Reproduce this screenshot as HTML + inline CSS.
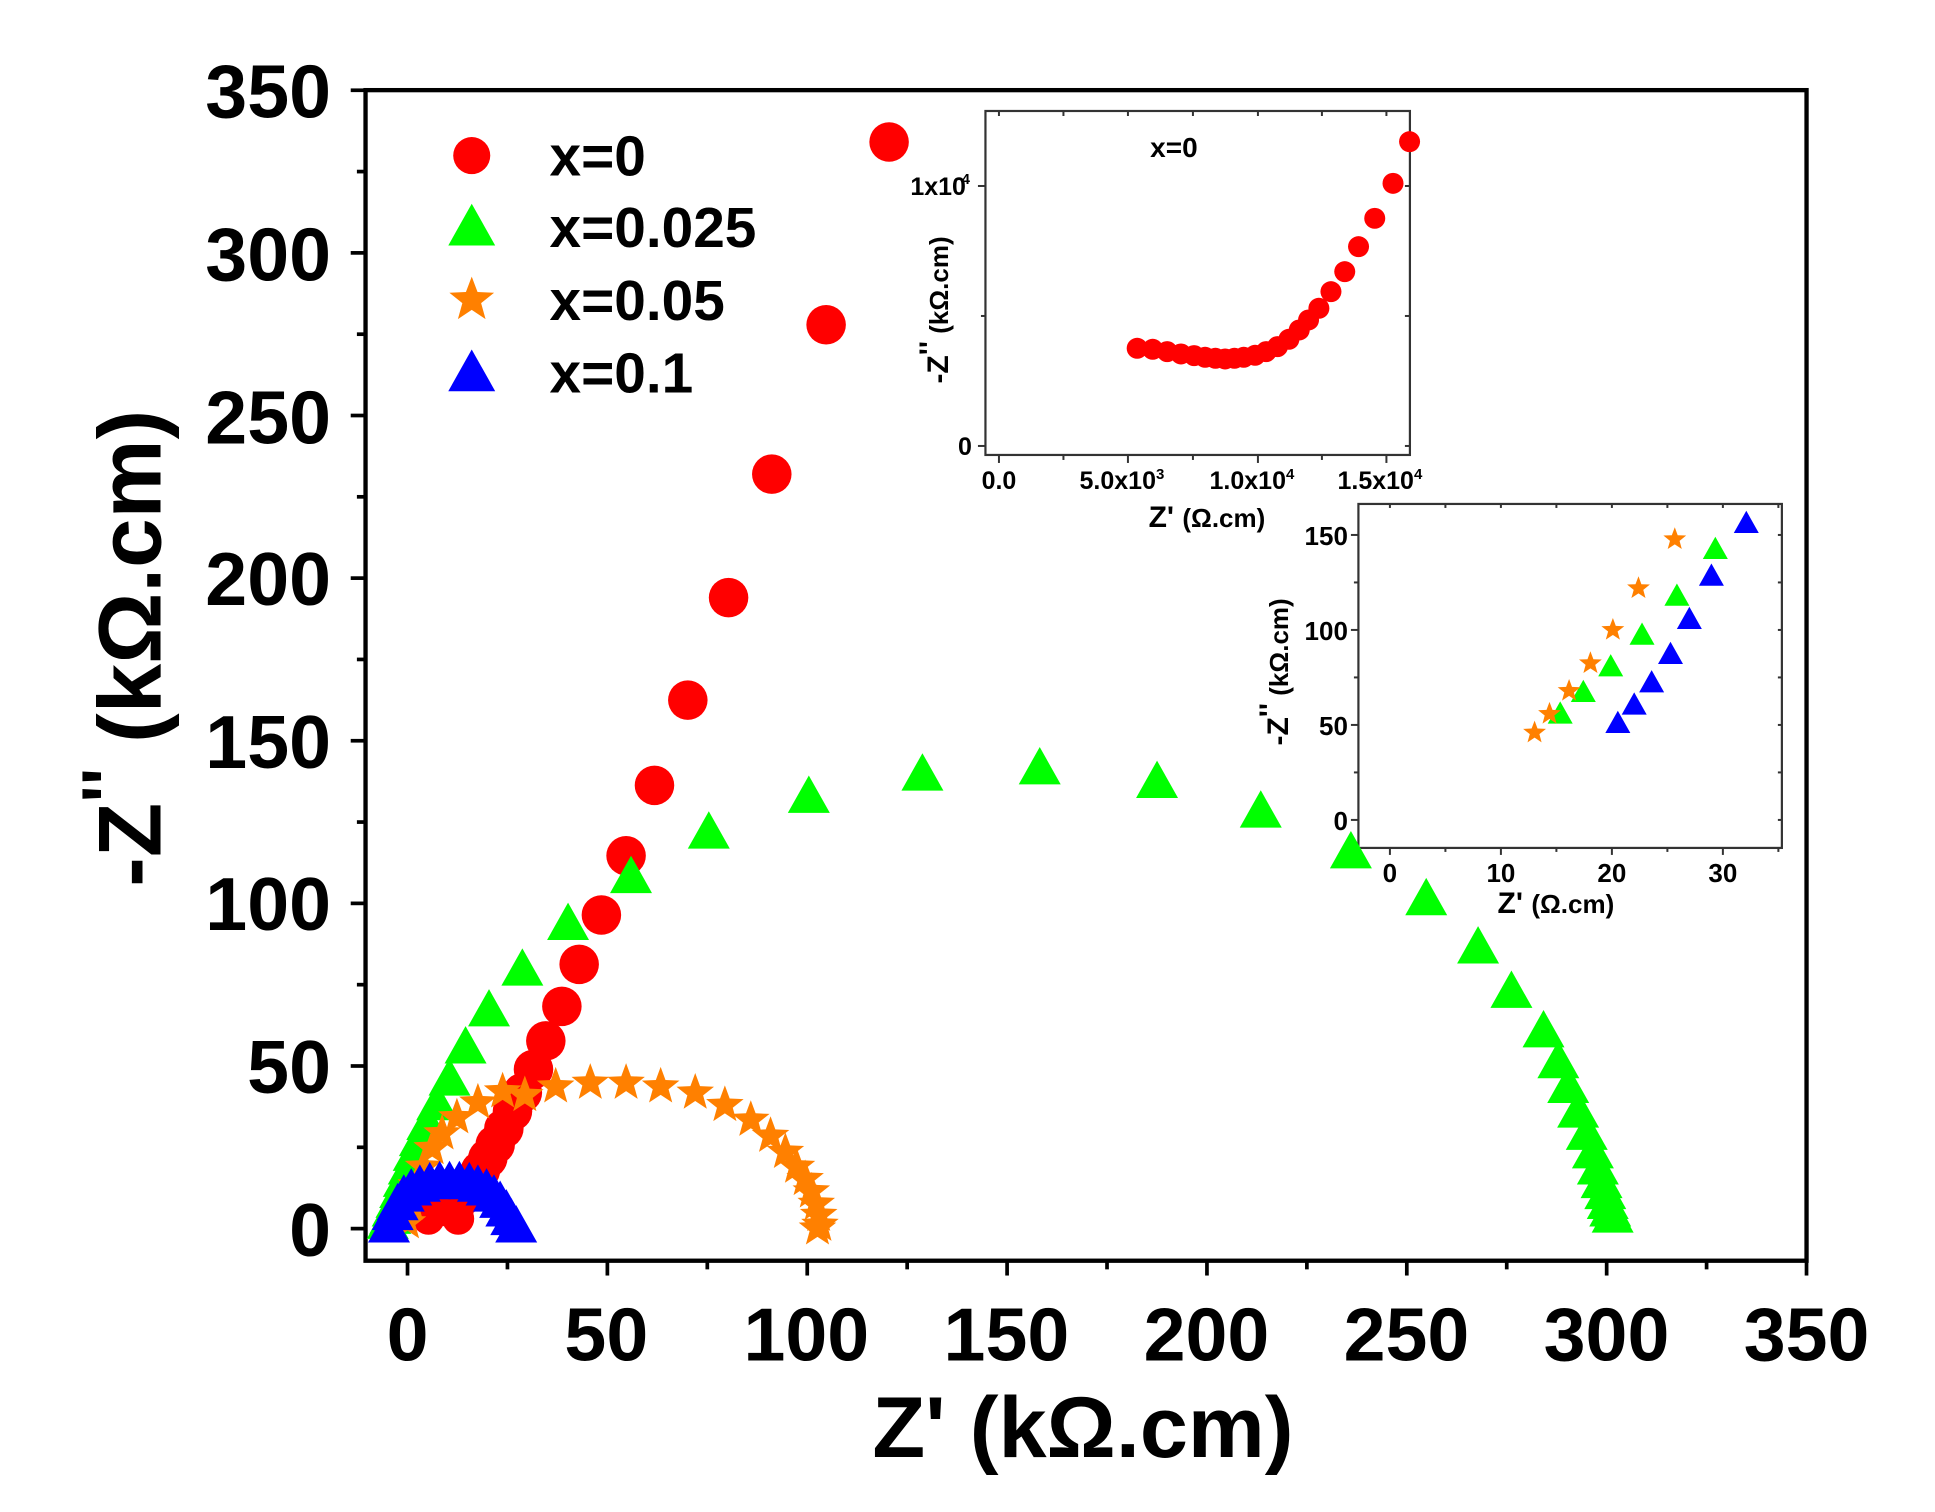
<!DOCTYPE html>
<html><head><meta charset="utf-8">
<style>
html,body{margin:0;padding:0;background:#fff;}
svg{display:block;}
text{font-family:"Liberation Sans",Arial,sans-serif;font-weight:bold;fill:#000;}
</style></head>
<body>
<svg id="s" width="1935" height="1512" viewBox="0 0 1567 1224.5" xmlns="http://www.w3.org/2000/svg">
<rect x="0" y="0" width="1567" height="1224.5" fill="#fff"/>
<g id="axes" stroke="#000" stroke-width="3.5" fill="none">
<rect x="296" y="73" width="1167" height="948"/>
</g>
<g id="ticks" stroke="#000" stroke-width="3" fill="none"></g>
<g font-size="61" text-anchor="end">
<text x="268" y="1017">0</text>
<text x="268" y="885">50</text>
<text x="268" y="753">100</text>
<text x="268" y="622">150</text>
<text x="268" y="490">200</text>
<text x="268" y="359">250</text>
<text x="268" y="227">300</text>
<text x="268" y="95">350</text>
</g>
<g font-size="61" text-anchor="middle">
<text x="330" y="1102">0</text>
<text x="491" y="1102">50</text>
<text x="653" y="1102">100</text>
<text x="815" y="1102">150</text>
<text x="977" y="1102">200</text>
<text x="1139" y="1102">250</text>
<text x="1301" y="1102">300</text>
<text x="1463" y="1102">350</text>
</g>
<text x="877" y="1180" font-size="70" text-anchor="middle">Z' (kΩ.cm)</text>
<text transform="translate(130,525) rotate(-90)" font-size="72" text-anchor="middle">-Z<tspan dy="-22" font-size="60">''</tspan><tspan dy="22"> (kΩ.cm)</tspan></text>

<g font-size="46">
<text x="445" y="142">x=0</text>
<text x="445" y="200">x=0.025</text>
<text x="445" y="259">x=0.05</text>
<text x="445" y="318">x=0.1</text>
</g>
<g id="legend"></g>

<g transform="scale(0.80978)">
 <rect x="985.5" y="111" width="424.5" height="344" fill="#fff" stroke="#333" stroke-width="2.2"/>
 <g id="in1t" stroke="#333" stroke-width="2" fill="none"></g>
 <g font-size="25" text-anchor="middle">
  <text x="999" y="489">0.0</text>
  <text x="1122" y="489">5.0x10<tspan dy="-10" font-size="15">3</tspan></text>
  <text x="1252" y="489">1.0x10<tspan dy="-10" font-size="15">4</tspan></text>
  <text x="1380" y="489">1.5x10<tspan dy="-10" font-size="15">4</tspan></text>
 </g>
 <g font-size="25" text-anchor="end">
  <text x="972" y="455">0</text>
  <text x="966" y="195">1x10</text><text x="970" y="184" font-size="15">4</text>
 </g>
 <text x="1174" y="157" font-size="28" text-anchor="middle">x=0</text>
 <text x="1207" y="527" font-size="30" text-anchor="middle">Z' <tspan font-size="26">(Ω.cm)</tspan></text>
 <text transform="translate(948,310) rotate(-90)" font-size="30" text-anchor="middle">-Z<tspan dy="-8">''</tspan><tspan dy="8" font-size="26"> (kΩ.cm)</tspan></text>
 <g id="in1d" fill="#f00"></g>

 <rect x="1358.5" y="504" width="423.5" height="344" fill="#fff" stroke="#333" stroke-width="2.2"/>
 <g id="in2t" stroke="#333" stroke-width="2" fill="none"></g>
 <g font-size="26" text-anchor="end">
  <text x="1348" y="545">150</text>
  <text x="1348" y="640">100</text>
  <text x="1348" y="735">50</text>
  <text x="1348" y="830">0</text>
 </g>
 <g font-size="26" text-anchor="middle">
  <text x="1390" y="882">0</text>
  <text x="1501" y="882">10</text>
  <text x="1612" y="882">20</text>
  <text x="1723" y="882">30</text>
 </g>
 <text x="1556" y="913" font-size="30" text-anchor="middle">Z' <tspan font-size="26">(Ω.cm)</tspan></text>
 <text transform="translate(1288,672) rotate(-90)" font-size="30" text-anchor="middle">-Z<tspan dy="-8">''</tspan><tspan dy="8" font-size="26"> (kΩ.cm)</tspan></text>
 <g id="in2d"></g>
</g>

<g id="data"></g>
</svg>
<script>
var NS="http://www.w3.org/2000/svg";
function el(p,tag,a){var e=document.createElementNS(NS,tag);for(var k in a)e.setAttribute(k,a[k]);p.appendChild(e);return e;}
function circ(p,x,y,r,c){el(p,"circle",{cx:x,cy:y,r:r,fill:c});}
function tri(p,x,y,h,c){el(p,"polygon",{points:(x)+","+(y-h)+" "+(x-h)+","+(y+h*0.78)+" "+(x+h)+","+(y+h*0.78),fill:c});}
function star(p,x,y,R,c){var pts=[];for(var i=0;i<10;i++){var r=i%2?R*0.42:R;var a=-Math.PI/2+i*Math.PI/5;pts.push((x+r*Math.cos(a)).toFixed(1)+","+(y+r*Math.sin(a)).toFixed(1));}el(p,"polygon",{points:pts.join(" "),fill:c});}
var T=document.getElementById("ticks");
for(var v=0;v<=350;v+=25){var x=330+v*3.2371;var L=(v%50==0)?12:7;el(T,"line",{x1:x,y1:1021,x2:x,y2:1021+L});
 var y=995-v*2.634;el(T,"line",{x1:296,y1:y,x2:296-L,y2:y});}
var G=document.getElementById("legend");
circ(G,382,126,15,"#f00");tri(G,382,184,19,"#0f0");star(G,382,243,19,"#ff8000");tri(G,382,302,19,"#00f");
var I1=document.getElementById("in1t");
[999,1063.5,1128,1193,1258,1322,1386.5].forEach(function(x,i){el(I1,"line",{x1:x,y1:455,x2:x,y2:i%2?460:463});el(I1,"line",{x1:x,y1:111,x2:x,y2:116});});
[446,316,186].forEach(function(y,i){el(I1,"line",{x1:985.5,y1:y,x2:i%2?981:978,y2:y});el(I1,"line",{x1:1410,y1:y,x2:1405,y2:y});});
var D1=document.getElementById("in1d");
[[688,745],[733,748],[775,755],[815,762],[853,767],[885,772],[915,775],[943,777],[970,775],[997,772],[1030,766],[1062,755],[1095,740],[1128,718],[1158,690],[1185,660],[1215,625],[1250,575],[1290,515],[1330,440],[1377,355],[1430,250],[1478,125]].forEach(function(p){var x=900+p[0]/2.9,y=100+p[1]/3;if(x<1420)circ(D1,Math.min(x,1410),y,10.5,"#f00");});
var I2=document.getElementById("in2t");
for(var v=0;v<=35;v+=5){var x=1390+v*11.1;el(I2,"line",{x1:x,y1:848,x2:x,y2:v%10?852:855});el(I2,"line",{x1:x,y1:504,x2:x,y2:508});}
for(var v=0;v<=150;v+=25){var y=820-v*1.9;el(I2,"line",{x1:1358.5,y1:y,x2:v%50?1354:1351,y2:y});el(I2,"line",{x1:1782,y1:y,x2:1778,y2:y});}
var D2=document.getElementById("in2d");
function p2(z){return [1240+z[0]/2.81,490+z[1]/3];}
[[900,672],[965,607],[1042,530],[1130,435],[1228,318],[1336,178]].forEach(function(z){var q=p2(z);tri(D2,q[0],q[1],12.5,"#0f0");});
[[1062,700],[1108,645],[1157,578],[1210,493],[1263,388],[1325,258],[1423,100]].forEach(function(z){var q=p2(z);tri(D2,q[0],q[1],12.5,"#00f");});
[[828,728],[870,672],[925,603],[985,520],[1048,420],[1120,295],[1222,148]].forEach(function(z){var q=p2(z);star(D2,q[0],q[1],12,"#ff8000");});
var D=document.getElementById("data");
for(var a=0;a<=180;a+=15){var x=359+12*Math.cos(a*Math.PI/180),y=987-7*Math.sin(a*Math.PI/180);circ(D,x,y,13,"#f00");}
[[720,115],[669,263],[625,384],[590,484],[557,567],[530,636],[507,693],[487,741],[469,781],[455,815],[442,843],[432,866],[423,885],[415,900],[408,914],[401,927],[395,938],[389,948],[384,957],[378,964],[373,970]].forEach(function(p){circ(D,p[0],p[1],16,"#f00");});
[[1306,985],[1304,980],[1302,974],[1300,966],[1297,957],[1294,946],[1290,933],[1285,918],[1278,900],[1270,880],[1262,860],[1250,835],[1224,803],[1197,767],[1155,728],[1094,690],[1021,657],[937,633],[842,622],[747,627],[655,645],[574,674],[511,710],[460,748],[423,785],[396,818],[377,848],[364,874],[354,894],[346,910],[340,923],[335,935],[331,946],[327,956],[324,965],[321,973],[318,980],[316,986],[314,990]].forEach(function(p){tri(D,p[0],p[1],17,"#0f0");});
[[330,990],[333,975],[337,960],[343,945],[350,930],[358,918],[370,905],[387,893],[407,884],[425,887],[450,880],[478,877],[507,877],[535,880],[563,885],[587,895],[608,907],[624,920],[636,933],[645,945],[652,955],[657,965],[661,975],[663,984],[664,992],[662,995]].forEach(function(p){star(D,p[0],p[1],16,"#ff8000");});
[[315,993],[318,983],[322,975],[327,968],[333,963],[340,960],[348,958],[356,957],[364,957],[372,957],[380,958],[387,960],[394,963],[400,968],[405,973],[410,980],[414,987],[418,993]].forEach(function(p){tri(D,p[0],p[1],17,"#00f");});
</script>
</body></html>
